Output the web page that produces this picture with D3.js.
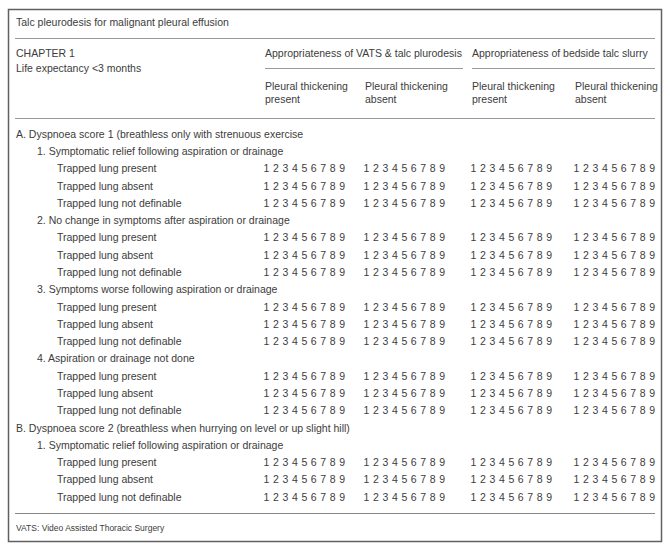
<!DOCTYPE html>
<html>
<head>
<meta charset="utf-8">
<script src="https://cdn.jsdelivr.net/npm/d3@7"></script>
<style>
  html, body { margin: 0; padding: 0; background: #fff; }
  svg { display: block; }
  text { font-family: "Liberation Sans", Arial, Helvetica, sans-serif; fill: #3c3c3c; }
</style>
</head>
<body>
<svg id="chart" width="670" height="545"></svg>
<script>
// ---- data ----
const tableTitle = "Talc pleurodesis for malignant pleural effusion";
const chapterLines = ["CHAPTER 1", "Life expectancy <3 months"];
const groupHeaders = ["Appropriateness of VATS & talc plurodesis", "Appropriateness of bedside talc slurry"];
const columnHeaders = [
  ["Pleural thickening", "present"],
  ["Pleural thickening", "absent"],
  ["Pleural thickening", "present"],
  ["Pleural thickening", "absent"]
];
const scores = [1, 2, 3, 4, 5, 6, 7, 8, 9];
const rowLabels = [
  "A. Dyspnoea score 1 (breathless only with strenuous exercise",
  "1. Symptomatic relief following aspiration or drainage",
  "Trapped lung present",
  "Trapped lung absent",
  "Trapped lung not definable",
  "2. No change in symptoms after aspiration or drainage",
  "Trapped lung present",
  "Trapped lung absent",
  "Trapped lung not definable",
  "3. Symptoms worse following aspiration or drainage",
  "Trapped lung present",
  "Trapped lung absent",
  "Trapped lung not definable",
  "4. Aspiration or drainage not done",
  "Trapped lung present",
  "Trapped lung absent",
  "Trapped lung not definable",
  "B. Dyspnoea score 2 (breathless when hurrying on level or up slight hill)",
  "1. Symptomatic relief following aspiration or drainage",
  "Trapped lung present",
  "Trapped lung absent",
  "Trapped lung not definable"
];
const rowLevels = [0,1,2,2,2,1,2,2,2,1,2,2,2,1,2,2,2,0,1,2,2,2];
const footnote = "VATS: Video Assisted Thoracic Surgery";

// ---- layout ----
const svg = d3.select("#chart");
const FS = 10.5;
const lineColor = "#9a9a9a";

// outer frame
svg.append("rect")
  .attr("x", 8.5).attr("y", 9.5).attr("width", 653).attr("height", 532)
  .attr("fill", "none").attr("stroke", "#606060").attr("stroke-width", 1.5);

function txt(x, y, s, size, anchor) {
  return svg.append("text")
    .attr("x", x).attr("y", y)
    .attr("dy", "0.35em")
    .attr("font-size", size || FS)
    .attr("text-anchor", anchor || "start")
    .text(s);
}
function hline(x1, x2, y, color) {
  svg.append("line")
    .attr("x1", x1).attr("x2", x2).attr("y1", y).attr("y2", y)
    .attr("stroke", color || lineColor).attr("stroke-width", 1);
}

// title
txt(16, 22, tableTitle);
hline(15, 655, 38.5);

// chapter
chapterLines.forEach((s, i) => txt(16, 53 + i * 15, s));

// columns
const colX = d3.scaleOrdinal().domain([0,1,2,3]).range([265, 365, 472, 575]);
const groupX = [[265, 463], [472, 655]];
groupHeaders.forEach((g, i) => {
  txt(groupX[i][0], 53, g);
  hline(groupX[i][0], groupX[i][1], 68.5);
});
columnHeaders.forEach((c, i) => {
  c.forEach((s, j) => txt(colX(i), 86 + j * 13.5, s));
});
hline(15, 655, 118.5);

// rows
const y = d3.scaleLinear().domain([0, rowLabels.length - 1]).range([134, 497]);
const indent = d3.scaleOrdinal().domain([0,1,2]).range([16, 37, 57]);

rowLabels.forEach((label, i) => {
  txt(indent(rowLevels[i]), y(i), label);
  if (rowLevels[i] === 2) {
    [0,1,2,3].forEach(c => {
      const xs = d3.scalePoint().domain(scores).range([colX(c) + 1.5, colX(c) + 1.5 + 8 * 9.45]);
      scores.forEach(s => {
        txt(xs(s), y(i), String(s), FS, "middle");
      });
    });
  }
});

hline(15, 655, 513.5, "#888");
txt(16, 528, footnote, 8.5);
</script>
</body>
</html>
